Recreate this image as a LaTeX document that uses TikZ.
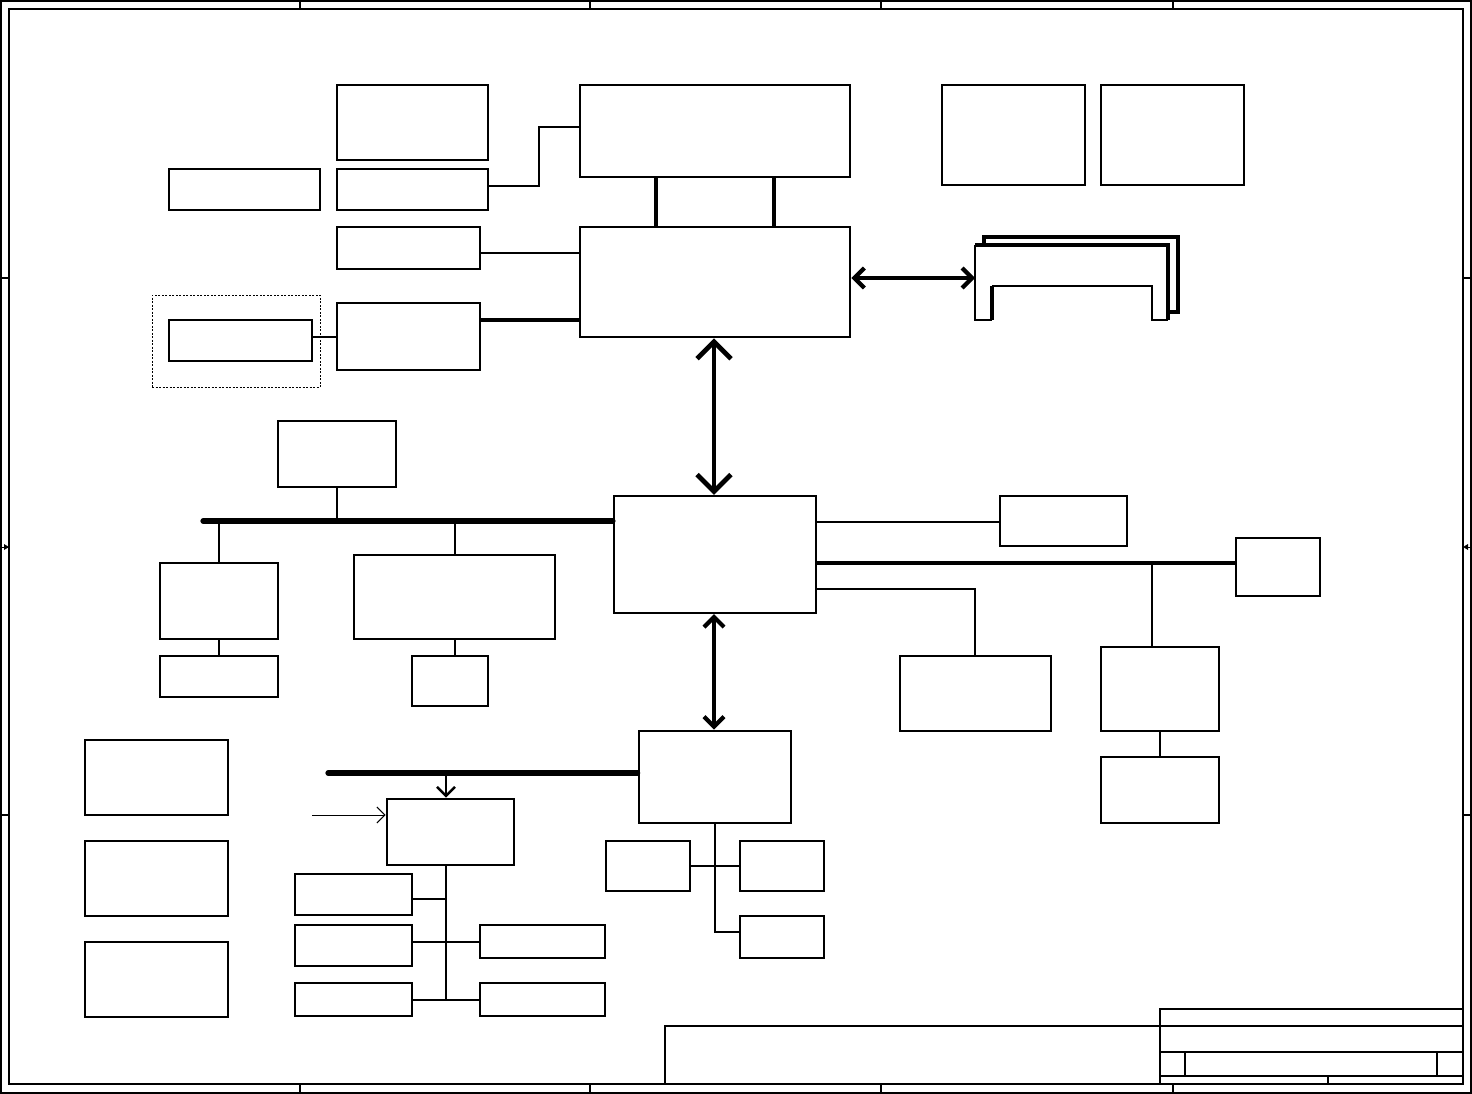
\documentclass[tikz,border=0pt]{standalone}
\usetikzlibrary{arrows.meta,fit,calc}
\tikzset{
  box/.style={draw, line width=2.7pt, inner sep=0pt},
  mbox/.style={draw, line width=2.1pt, inner sep=0pt},
  dotbox/.style={draw, line width=0.8pt, dash pattern=on 2pt off 1.5pt, inner sep=0pt},
  wire/.style={line width=1.7pt},
  mwire/.style={line width=2.4pt},
  bus/.style={line width=5.2pt, line cap=round},
  frame/.style={line width=1.5pt},
  bigarrow/.style={line width=4.8pt, {Straight Barb[length=17pt,width=34pt]}-{Straight Barb[length=17pt,width=34pt]}},
  midarrow/.style={line width=4.2pt, {Straight Barb[length=10pt,width=20pt]}-{Straight Barb[length=10pt,width=20pt]}},
  downarrow/.style={line width=2.5pt, -{Straight Barb[length=9pt,width=18pt]}},
  thinarrow/.style={line width=1pt, -{Straight Barb[length=8pt,width=16pt]}},
  memthick/.style={line width=4.2pt},
  memthin/.style={line width=2.2pt},
}
\newcommand\bx[6][box]{\node[#1, fit={(#3,#4)(#5,#6)}] (#2) {};}
\begin{document}
\begin{tikzpicture}[x=1pt,y=-1pt]
\useasboundingbox (0,0) rectangle (1472,1094);
% ---------- frame ----------
\draw[frame] (1,1) rectangle (1471,1093);
\draw[frame] (9,9) rectangle (1463,1084);
\foreach \xx in {300,590,881,1173}{
  \draw[frame] (\xx,1) -- (\xx,9);
  \draw[frame] (\xx,1084) -- (\xx,1093);
}
\foreach \yy in {278,815}{
  \draw[frame] (1,\yy) -- (9,\yy);
  \draw[frame] (1463,\yy) -- (1471,\yy);
}
\draw[line width=1pt] (1,547) -- (5,547);
\fill (9,547) -- (4,544) -- (4,550) -- cycle;
\draw[line width=1pt] (1471,547) -- (1467,547);
\fill (1463,547) -- (1468,544) -- (1468,550) -- cycle;
% ---------- title block ----------
\draw[frame] (665,1084) -- (665,1026) -- (1463,1026);
\draw[frame] (1160,1084) -- (1160,1009) -- (1463,1009);
\draw[frame] (1160,1052) -- (1463,1052);
\draw[frame] (1160,1076) -- (1463,1076);
\draw[frame] (1185,1052) -- (1185,1076);
\draw[frame] (1437,1052) -- (1437,1076);
\draw[frame] (1328,1076) -- (1328,1084);
% ---------- top area ----------
\bx{b1}{337}{85}{488}{160}
\bx{b2}{337}{169}{488}{210}
\bx{b3}{169}{169}{320}{210}
\bx{b4}{337}{227}{480}{269}
\bx{b5}{337}{303}{480}{370}
\bx[dotbox]{dz}{152}{295}{320}{387}
\bx{b6}{169}{320}{312}{361}
\bx{cpu}{580}{85}{850}{177}
\bx{nb}{580}{227}{850}{337}
\bx{r1}{942}{85}{1085}{185}
\bx{r2}{1101}{85}{1244}{185}
% memory stack
\draw[memthick, line join=miter] (984,245) -- (984,237) -- (1178,237) -- (1178,312) -- (1168,312);
\draw[memthick] (975,245) -- (1168,245) -- (1168,320);
\draw[memthin] (975,245) -- (975,320) -- (992,320);
\draw[memthick] (992,320) -- (992,286);
\draw[memthin] (992,286) -- (1152,286) -- (1152,320) -- (1168,320);
\coordinate (mem) at (975,278);
% connections top
\draw[wire] (b2.east |- 0,186) -- (539,186) -- (539,127) -- (cpu.west |- 0,127);
\draw[line width=3.6pt] (cpu.south -| 656,0) -- (nb.north -| 656,0);
\draw[line width=3.6pt] (cpu.south -| 774,0) -- (nb.north -| 774,0);
\draw[wire] (b4.east |- 0,253) -- (nb.west |- 0,253);
\draw[line width=4.8pt] (b5.east |- 0,320) -- (nb.west |- 0,320);
\draw[wire] (b6.east |- 0,337) -- (b5.west |- 0,337);
\draw[midarrow] (nb.east |- mem) -- (mem);
% ---------- south bridge ----------
\bx[mbox]{sb}{614}{496}{816}{613}
\draw[bigarrow] (nb.south -| 714,0) -- (sb.north -| 714,0);
% left bus
\coordinate (busL) at (203,521);
\draw[bus] (busL) -- (sb.west |- busL);
\bx{b7}{278}{421}{396}{487}
\draw[wire] (b7.south -| 337,0) -- (337,521);
\bx{b8}{160}{563}{278}{639}
\draw[mwire] (219,521) -- (b8.north -| 219,0);
\bx{b9}{160}{656}{278}{697}
\draw[wire] (b8.south -| 219,0) -- (b9.north -| 219,0);
\bx{b10}{354}{555}{555}{639}
\draw[wire] (455,521) -- (b10.north -| 455,0);
\bx{b11}{412}{656}{488}{706}
\draw[wire] (b10.south -| 455,0) -- (b11.north -| 455,0);
% right of south bridge
\bx{b12}{1000}{496}{1127}{546}
\draw[wire] (sb.east |- 0,522) -- (b12.west |- 0,522);
\bx[mbox]{b13}{1236}{538}{1320}{596}
\draw[line width=3.2pt] (sb.east |- 0,563) -- (b13.west |- 0,563);
\bx{b14}{1101}{647}{1219}{731}
\draw[wire] (1152,563) -- (b14.north -| 1152,0);
\bx{b15}{1101}{757}{1219}{823}
\draw[mwire] (b14.south -| 1160,0) -- (b15.north -| 1160,0);
\bx{b16}{900}{656}{1051}{731}
\draw[wire] (sb.east |- 0,589) -- (975,589) -- (b16.north -| 975,0);
% ---------- lower part ----------
\bx{b17}{639}{731}{791}{823}
\draw[midarrow] (sb.south -| 714,0) -- (b17.north -| 714,0);
\coordinate (busB) at (328,773);
\draw[bus] (busB) -- (b17.west |- busB);
\bx{b18}{387}{799}{514}{865}
\draw[downarrow] (446,773) -- (b18.north -| 446,0);
\coordinate (inB) at (312,815);
\draw[thinarrow] (inB) -- (b18.west |- inB);
\coordinate (vt) at (446,1000);
\draw[wire] (b18.south -| 446,0) -- (vt);
\bx{b19}{295}{874}{412}{915}
\draw[wire] (b19.east |- 0,899) -- (446,899);
\bx{b20}{295}{925}{412}{966}
\bx[mbox]{b21}{480}{925}{605}{958}
\draw[wire] (b20.east |- 0,942) -- (b21.west |- 0,942);
\bx{b22}{295}{983}{412}{1016}
\bx[mbox]{b23}{480}{983}{605}{1016}
\draw[wire] (b22.east |- 0,1000) -- (b23.west |- 0,1000);
\bx[mbox]{b24}{85}{740}{228}{815}
\bx[mbox]{b25}{85}{841}{228}{916}
\bx[mbox]{b26}{85}{942}{228}{1017}
\bx[mbox]{b28}{606}{841}{690}{891}
\bx{b29}{740}{841}{824}{891}
\bx{b27}{740}{916}{824}{958}
\draw[wire] (b17.south -| 715,0) -- (715,932) -- (b27.west |- 0,932);
\draw[wire] (b28.east |- 0,866) -- (b29.west |- 0,866);
\end{tikzpicture}
\end{document}
